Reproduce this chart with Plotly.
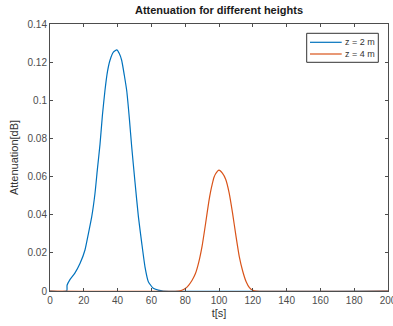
import plotly.graph_objects as go

t_z2 = [0, 9.9, 10.1, 11.8, 14.8, 17.8, 20.7, 22.7, 24.7, 26.6, 28, 29.6, 31, 32.5, 34, 35.5, 37.5, 39.5,
        41, 42.4, 44, 45.4, 47, 48.3, 50.3, 52.3, 54.3, 56.2, 58.2, 61.1, 64, 67, 200]
att_z2 = [0, 0, 0.003, 0.006, 0.0095, 0.0145, 0.0215, 0.030, 0.039, 0.051, 0.0635, 0.077, 0.092, 0.105,
          0.115, 0.121, 0.1252, 0.1264, 0.1245, 0.121, 0.113, 0.105, 0.090, 0.076, 0.057, 0.039, 0.025,
          0.0127, 0.0049, 0.0014, 0.0005, 0, 0]

t_z4 = [0, 76, 78, 80, 82, 84, 86, 88, 90, 92, 94, 95, 96, 97, 98, 100, 102, 104, 106, 108, 110, 112, 114,
        116, 118, 120, 122, 200]
att_z4 = [0, 0, 0.0004, 0.0013, 0.003, 0.0055, 0.009, 0.015, 0.0235, 0.035, 0.047, 0.052, 0.056, 0.0595,
          0.0615, 0.0634, 0.0618, 0.0585, 0.0515, 0.041, 0.029, 0.018, 0.0105, 0.005, 0.0018, 0.0004, 0, 0]

series_names = ["z = 2 m", "z = 4 m"]
series_colors = ["#0072BD", "#D95319"]

x_ticks = list(range(0, 201, 20))
y_ticks = [0, 0.02, 0.04, 0.06, 0.08, 0.1, 0.12, 0.14]
y_tick_labels = ["0", "0.02", "0.04", "0.06", "0.08", "0.1", "0.12", "0.14"]

FONT = "Liberation Sans, Arial, sans-serif"
AX = "#4d4d4d"

fig = go.Figure()
for tx, vy, nm, col in [(t_z2, att_z2, series_names[0], series_colors[0]),
                        (t_z4, att_z4, series_names[1], series_colors[1])]:
    fig.add_trace(go.Scatter(x=tx, y=vy, mode="lines", name=nm,
                             line=dict(color=col, width=1.2, shape="spline", smoothing=0.5)))

# Custom compact legend box (MATLAB-style), positioned in plot-area fractions
W, H = 338.0, 267.0
def px(x):
    return (x - 50) / W
def py(y):
    return (291 - y) / H

fig.add_shape(type="rect", xref="paper", yref="paper", x0=px(306.7), x1=px(378.3), y0=py(62.3), y1=py(33.3),
              line=dict(color="#333333", width=1), fillcolor="white", layer="above")
for i, (nm, col) in enumerate(zip(series_names, series_colors)):
    yy = py(42.3 + i * 11.7)
    fig.add_shape(type="line", xref="paper", yref="paper", x0=px(310), x1=px(341.7), y0=yy, y1=yy,
                  line=dict(color=col, width=1.2), layer="above")
    fig.add_annotation(xref="paper", yref="paper", x=px(343), y=yy, text=nm, showarrow=False,
                       xanchor="left", yanchor="middle", font=dict(size=9, color="#333333"))

fig.update_layout(
    width=393, height=326,
    margin=dict(l=50, r=5, t=24, b=35),
    paper_bgcolor="white", plot_bgcolor="white",
    font=dict(family=FONT, size=10, color="#4d4d4d"),
    title=dict(text="<b>Attenuation for different heights</b>", x=(219 / 393), xanchor="center",
               y=1 - 10 / 326, yanchor="middle", font=dict(size=11, color="#1a1a1a")),
    showlegend=False,
    xaxis=dict(range=[0, 200], tickvals=x_ticks, ticks="inside", ticklen=3, tickcolor=AX,
               showline=True, linecolor=AX, linewidth=1, mirror="ticks", showgrid=False,
               zeroline=False, automargin=False, ticklabeloverflow="allow",
               title=dict(text="t[s]", font=dict(size=11, color="#333333"), standoff=4)),
    yaxis=dict(range=[0, 0.14], tickvals=y_ticks, ticktext=y_tick_labels, ticks="inside", ticklen=3,
               tickcolor=AX, showline=True, linecolor=AX, linewidth=1, mirror="ticks", showgrid=False,
               zeroline=False, automargin=False,
               title=dict(text="Attenuation[dB]", font=dict(size=11, color="#333333"), standoff=6)),
)

fig.write_html("out.html", config={"displayModeBar": False},
               post_script="document.body.style.margin='0';")
